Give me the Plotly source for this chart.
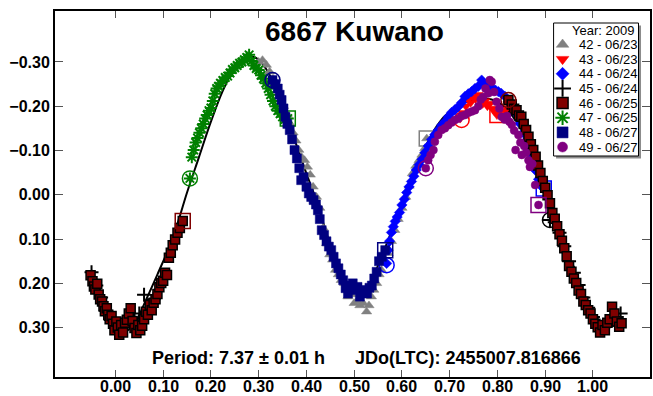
import plotly.graph_objects as go

# ---------------- data ----------------
title_text = "6867 Kuwano"
info_text = "Period: 7.37 ± 0.01 h      JDo(LTC): 2455007.816866"
legend_title = "Year: 2009"

x_ticks = [0.0, 0.1, 0.2, 0.3, 0.4, 0.5, 0.6, 0.7, 0.8, 0.9, 1.0]
y_ticks = [-0.3, -0.2, -0.1, 0.0, 0.1, 0.2, 0.3]

# fitted curve
fit_x = [-0.05, -0.03, -0.01, 0.0, 0.018, 0.04, 0.065, 0.09, 0.11, 0.13, 0.15, 0.175,
         0.20, 0.225, 0.25, 0.27, 0.285, 0.30, 0.315, 0.335, 0.36, 0.38, 0.40, 0.42,
         0.44, 0.46, 0.48, 0.50, 0.515, 0.53, 0.55, 0.57, 0.59, 0.61, 0.63, 0.65,
         0.67, 0.69, 0.72, 0.75, 0.775, 0.80, 0.82, 0.84, 0.86, 0.88, 0.90, 0.92,
         0.94, 0.96, 0.98, 1.0, 1.018, 1.035, 1.05]
fit_y = [0.17, 0.22, 0.27, 0.29, 0.31, 0.29, 0.235, 0.175, 0.125, 0.065, -0.005, -0.085,
         -0.165, -0.235, -0.287, -0.308, -0.312, -0.305, -0.285, -0.245, -0.165, -0.11, -0.048, 0.01,
         0.08, 0.145, 0.195, 0.218, 0.222, 0.205, 0.16, 0.105, 0.05, -0.005, -0.06, -0.11,
         -0.15, -0.178, -0.203, -0.215, -0.218, -0.21, -0.192, -0.165, -0.128, -0.08, -0.025, 0.04,
         0.11, 0.175, 0.235, 0.28, 0.305, 0.30, 0.28]

names = ["42 - 06/23", "43 - 06/23", "44 - 06/24", "45 - 06/24",
         "46 - 06/25", "47 - 06/25", "48 - 06/27", "49 - 06/27"]

s42_x = [0.300, 0.308, 0.316, 0.323, 0.330, 0.338, 0.345, 0.352, 0.360, 0.366, 0.372, 0.378,
         0.384, 0.390, 0.396, 0.402, 0.408, 0.414, 0.421, 0.428, 0.435, 0.442, 0.449, 0.455,
         0.461, 0.467, 0.473, 0.480, 0.487, 0.494, 0.500, 0.506, 0.512, 0.519, 0.526, 0.531,
         0.536, 0.541, 0.547, 0.552, 0.557, 0.564, 0.571, 0.578, 0.585, 0.592, 0.600, 0.608,
         0.615, 0.622, 0.629, 0.636, 0.642, 0.648, 0.652]
s42_y = [-0.300, -0.304, -0.293, -0.278, -0.262, -0.245, -0.225, -0.200, -0.180, -0.160, -0.140, -0.122,
         -0.101, -0.085, -0.078, -0.063, -0.045, -0.018, 0.005, 0.030, 0.075, 0.110, 0.135, 0.147,
         0.170, 0.180, 0.193, 0.200, 0.230, 0.225, 0.245, 0.240, 0.250, 0.245, 0.264, 0.250,
         0.230, 0.215, 0.200, 0.180, 0.170, 0.150, 0.132, 0.105, 0.080, 0.055, 0.030, 0.005,
         -0.020, -0.048, -0.065, -0.078, -0.090, -0.105, -0.127]

s43_x = [0.722, 0.728, 0.734, 0.739, 0.744, 0.749, 0.754, 0.759, 0.764, 0.769, 0.774, 0.779,
         0.784, 0.789, 0.794, 0.799, 0.804, 0.810, 0.816, 0.822]
s43_y = [-0.172, -0.185, -0.200, -0.214, -0.208, -0.221, -0.216, -0.226, -0.218, -0.205, -0.212, -0.200,
         -0.206, -0.195, -0.188, -0.180, -0.186, -0.175, -0.190, -0.205]

s44_x = [0.568, 0.571, 0.574, 0.578, 0.582, 0.586, 0.590, 0.595, 0.600, 0.605, 0.610, 0.615,
         0.620, 0.625, 0.630, 0.636, 0.642, 0.648, 0.655, 0.662, 0.669, 0.676, 0.683, 0.690,
         0.697, 0.704, 0.711, 0.718, 0.725, 0.732, 0.739, 0.746, 0.753, 0.760, 0.767, 0.772,
         0.778, 0.784, 0.790, 0.796, 0.802, 0.808, 0.816, 0.824, 0.832, 0.840, 0.847, 0.854,
         0.860, 0.866, 0.872, 0.879, 0.886, 0.892, 0.897]
s44_y = [0.155, 0.125, 0.105, 0.085, 0.072, 0.060, 0.050, 0.040, 0.023, 0.010, -0.005, -0.018,
         -0.030, -0.042, -0.056, -0.068, -0.080, -0.095, -0.110, -0.125, -0.136, -0.146, -0.157, -0.165,
         -0.176, -0.186, -0.192, -0.199, -0.208, -0.222, -0.228, -0.233, -0.240, -0.245, -0.259, -0.250,
         -0.244, -0.252, -0.240, -0.236, -0.233, -0.229, -0.222, -0.210, -0.198, -0.183, -0.161, -0.140,
         -0.122, -0.100, -0.085, -0.056, -0.035, -0.020, -0.014]

s45_x = [-0.050, -0.040, -0.030, -0.020, -0.010, 0.000, 0.010, 0.020, 0.030, 0.040, 0.050, 0.060,
         0.070, 0.080, 0.910, 0.920, 0.930, 0.940, 0.950, 0.960, 0.970, 0.980, 0.990, 1.000,
         1.010, 1.020, 1.030, 1.040, 1.050, 1.058]
s45_y = [0.175, 0.205, 0.232, 0.262, 0.283, 0.300, 0.306, 0.298, 0.288, 0.280, 0.268, 0.226,
         0.255, 0.236, 0.057, 0.062, 0.086, 0.116, 0.150, 0.176, 0.204, 0.232, 0.255, 0.276,
         0.290, 0.302, 0.296, 0.284, 0.276, 0.268]

s46_x = [-0.052, -0.048, -0.045, -0.042, -0.038, -0.035, -0.032, -0.028, -0.025, -0.022, -0.018, -0.015,
         -0.012, -0.008, -0.005, -0.002, 0.002, 0.005, 0.008, 0.012, 0.016, 0.020, 0.024, 0.028,
         0.032, 0.036, 0.040, 0.044, 0.048, 0.052, 0.056, 0.060, 0.064, 0.068, 0.072, 0.076,
         0.080, 0.084, 0.088, 0.092, 0.096, 0.100, 0.104, 0.108, 0.112, 0.116, 0.120, 0.125,
         0.130, 0.135, 0.141,
         0.823, 0.830, 0.835, 0.840, 0.845, 0.850, 0.855, 0.860, 0.865, 0.870, 0.875, 0.880,
         0.885, 0.890, 0.895, 0.900, 0.905, 0.910, 0.915, 0.920, 0.925, 0.930, 0.935, 0.940,
         0.945, 0.950, 0.955, 0.960, 0.965, 0.970, 0.975, 0.980, 0.985, 0.990, 0.995, 1.000,
         1.005, 1.010, 1.015, 1.020, 1.025, 1.030, 1.035, 1.040, 1.045, 1.050, 1.055, 1.060]
s46_y = [0.182, 0.195, 0.207, 0.214, 0.201, 0.225, 0.236, 0.241, 0.252, 0.263, 0.256, 0.271,
         0.281, 0.274, 0.291, 0.306, 0.286, 0.300, 0.316, 0.294, 0.311, 0.289, 0.282, 0.268,
         0.256, 0.285, 0.301, 0.312, 0.294, 0.306, 0.296, 0.281, 0.264, 0.271, 0.249, 0.261,
         0.244, 0.236, 0.224, 0.209, 0.199, 0.194, 0.176, 0.181, 0.142, 0.131, 0.114, 0.101,
         0.086, 0.075, 0.059,
         -0.214, -0.204, -0.194, -0.191, -0.179, -0.176, -0.160, -0.146, -0.131, -0.114, -0.101, -0.086,
         -0.066, -0.049, -0.031, -0.016, 0.001, 0.019, 0.041, 0.054, 0.071, 0.089, 0.104, 0.121,
         0.139, 0.161, 0.174, 0.189, 0.199, 0.216, 0.224, 0.241, 0.249, 0.261, 0.268, 0.281,
         0.291, 0.299, 0.311, 0.294, 0.306, 0.289, 0.281, 0.253, 0.268, 0.286, 0.298, 0.290]

s47_x = [0.156, 0.160, 0.164, 0.168, 0.172, 0.176, 0.180, 0.184, 0.188, 0.192, 0.196, 0.200,
         0.204, 0.208, 0.212, 0.216, 0.220, 0.225, 0.230, 0.235, 0.240, 0.245, 0.250, 0.255,
         0.260, 0.265, 0.270, 0.275, 0.280, 0.285, 0.290, 0.295, 0.300, 0.305, 0.310, 0.315,
         0.320, 0.325, 0.330, 0.335, 0.340, 0.345, 0.350, 0.355, 0.361]
s47_y = [-0.037, -0.085, -0.101, -0.118, -0.128, -0.140, -0.150, -0.160, -0.172, -0.180, -0.190, -0.196,
         -0.212, -0.228, -0.240, -0.245, -0.252, -0.258, -0.265, -0.268, -0.275, -0.283, -0.287, -0.292,
         -0.297, -0.300, -0.305, -0.310, -0.316, -0.302, -0.292, -0.285, -0.282, -0.270, -0.262, -0.252,
         -0.240, -0.226, -0.212, -0.200, -0.190, -0.183, -0.176, -0.170, -0.172]

s48_x = [0.329, 0.335, 0.340, 0.344, 0.348, 0.352, 0.356, 0.360, 0.365, 0.370, 0.375, 0.380,
         0.385, 0.389, 0.394, 0.400, 0.405, 0.410, 0.415, 0.420, 0.424, 0.428, 0.432, 0.437,
         0.442, 0.447, 0.452, 0.457, 0.462, 0.467, 0.472, 0.477, 0.482, 0.487, 0.492, 0.497,
         0.502, 0.507, 0.512, 0.517, 0.522, 0.527, 0.532, 0.537, 0.542, 0.547, 0.552, 0.558, 0.565]
s48_y = [-0.259, -0.250, -0.240, -0.226, -0.214, -0.195, -0.176, -0.160, -0.146, -0.125, -0.101, -0.082,
         -0.060, -0.033, -0.040, -0.018, -0.003, 0.005, 0.012, 0.022, 0.035, 0.055, 0.080, 0.091,
         0.105, 0.117, 0.125, 0.140, 0.155, 0.166, 0.180, 0.193, 0.211, 0.223, 0.205, 0.200,
         0.215, 0.208, 0.230, 0.215, 0.222, 0.223, 0.210, 0.205, 0.189, 0.174, 0.150, 0.140, 0.125]

s49_x = [0.650, 0.655, 0.660, 0.666, 0.669, 0.676, 0.683, 0.690, 0.697, 0.704, 0.711, 0.718,
         0.725, 0.732, 0.739, 0.746, 0.753, 0.760, 0.765, 0.770, 0.775, 0.781, 0.784, 0.788,
         0.793, 0.798, 0.804, 0.809, 0.815, 0.820, 0.825, 0.830, 0.835, 0.838, 0.844, 0.848,
         0.851, 0.856, 0.860, 0.865, 0.868, 0.873, 0.879, 0.886]
s49_y = [-0.060, -0.078, -0.090, -0.101, -0.120, -0.135, -0.146, -0.150, -0.157, -0.163, -0.169, -0.172,
         -0.178, -0.180, -0.185, -0.188, -0.191, -0.200, -0.215, -0.221, -0.240, -0.229, -0.259, -0.255,
         -0.232, -0.210, -0.195, -0.176, -0.170, -0.178, -0.165, -0.158, -0.145, -0.101, -0.135, -0.118,
         -0.090, -0.110, -0.095, -0.078, -0.063, -0.070, -0.022, 0.023]

# session first (circle) / last (square) points
first_x = [None, 0.725, 0.568, 0.910, 0.823, 0.156, 0.329, 0.650]
first_y = [None, -0.169, 0.159, 0.057, -0.214, -0.037, -0.259, -0.060]
last_x = [0.652, 0.800, 0.897, None, 0.141, 0.361, 0.565, 0.886]
last_y = [-0.127, -0.180, -0.014, None, 0.059, -0.172, 0.125, 0.023]

# ---------------- styling / layout constants (pixels) ----------------
W, H = 653, 396
PL, PR, PT, PB = 55, 650.5, 11, 377          # plot area edges in px
Y_TOP, Y_BOT = -0.415, 0.4115
XLAB_Y = 386.5                                 # centre line of the x tick labels (px)
colors = ["#808080", "#ff0000", "#0000ff", "#000000", "#800000", "#008000", "#000080", "#800080"]
symbols = ["triangle-up", "triangle-down", "diamond", "cross-thin", "square", "asterisk", "square", "circle"]
sizes = [9, 9, 8, 10, 9, 10, 9, 8]
FONT = "Arial, Liberation Sans, sans-serif"

LEG_X0, LEG_X1, LEG_Y0, LEG_Y1 = 554, 639, 23, 156
LEG_SYM_X, LEG_TXT_X, LEG_ROW0, LEG_STEP = 563, 577, 44.5, 14.65

series_x = [s42_x, s43_x, s44_x, s45_x, s46_x, s47_x, s48_x, s49_x]
series_y = [s42_y, s43_y, s44_y, s45_y, s46_y, s47_y, s48_y, s49_y]


def mk(i, size):
    sym = symbols[i]
    if sym in ("cross-thin", "asterisk"):
        return dict(symbol=sym, size=size, color=colors[i], line=dict(color=colors[i], width=2))
    if i == 4:
        return dict(symbol=sym, size=size, color=colors[i], line=dict(color="black", width=1.5))
    return dict(symbol=sym, size=size, color=colors[i], line=dict(color=colors[i], width=0.5))


fig = go.Figure()

fig.add_trace(go.Scatter(x=fit_x, y=fit_y, mode="lines",
                         line=dict(color="black", width=2, shape="spline", smoothing=1.0),
                         showlegend=False, hoverinfo="skip"))

for i in range(8):
    fig.add_trace(go.Scatter(x=series_x[i], y=series_y[i], mode="markers", name=names[i],
                             marker=mk(i, sizes[i]), showlegend=False))
    if first_x[i] is not None:
        fig.add_trace(go.Scatter(x=[first_x[i]], y=[first_y[i]], mode="markers", showlegend=False,
                                 marker=dict(symbol="circle-open", size=15, color=colors[i],
                                             line=dict(width=1.5, color=colors[i]))))
    if last_x[i] is not None:
        fig.add_trace(go.Scatter(x=[last_x[i]], y=[last_y[i]], mode="markers", showlegend=False,
                                 marker=dict(symbol="square-open", size=15, color=colors[i],
                                             line=dict(width=1.5, color=colors[i]))))

# ---- hand-drawn legend on a pixel-coordinate overlay axis ----
annotations = []
for i in range(8):
    yy = LEG_ROW0 + i * LEG_STEP
    fig.add_trace(go.Scatter(x=[LEG_SYM_X], y=[yy], xaxis="x2", yaxis="y2", mode="markers",
                             marker=mk(i, sizes[i] + 2), showlegend=False, hoverinfo="skip"))
    annotations.append(dict(text=names[i], x=LEG_TXT_X, y=yy, xref="x2", yref="y2",
                            xanchor="left", yanchor="middle", showarrow=False,
                            font=dict(family=FONT, size=13, color="black")))
annotations.append(dict(text=legend_title, x=LEG_X1 - 3, y=LEG_ROW0 - LEG_STEP + 1, xref="x2", yref="y2",
                        xanchor="right", yanchor="middle", showarrow=False,
                        font=dict(family=FONT, size=13, color="black")))
annotations.append(dict(text=title_text, x=355, y=31, xref="x2", yref="y2", showarrow=False,
                        xanchor="center", yanchor="middle",
                        font=dict(family=FONT, size=28, color="black", weight="bold")))
annotations.append(dict(text=info_text, x=366.5, y=357.5, xref="x2", yref="y2", showarrow=False,
                        xanchor="center", yanchor="middle",
                        font=dict(family=FONT, size=18, color="black", weight="bold")))
# x tick labels (placed just under the axis line, paper-referenced so they are not clipped)
xlab_paper_y = (PB - XLAB_Y) / (PB - PT)
for t in x_ticks:
    annotations.append(dict(text=f"{t:.2f}", x=t, y=xlab_paper_y, xref="x", yref="paper", showarrow=False,
                            xanchor="center", yanchor="middle",
                            font=dict(family=FONT, size=16, color="black", weight="bold")))

shapes = [
    dict(type="rect", xref="x2", yref="y2", x0=LEG_X0 + 2.5, x1=LEG_X1 + 2.5, y0=LEG_Y0 + 2.5, y1=LEG_Y1 + 2.5,
         fillcolor="#8c8c8c", line=dict(width=0), layer="below"),
    dict(type="rect", xref="x2", yref="y2", x0=LEG_X0, x1=LEG_X1, y0=LEG_Y0, y1=LEG_Y1,
         fillcolor="white", line=dict(color="black", width=1), layer="below"),
]

fig.update_layout(
    width=W, height=H,
    margin=dict(l=PL, r=W - PR, t=PT, b=H - PB, autoexpand=False),
    paper_bgcolor="white", plot_bgcolor="white",
    font=dict(family=FONT, color="black"),
    showlegend=False,
    xaxis=dict(range=[-0.1265, 1.1195], tickvals=x_ticks, showticklabels=False, automargin=False,
               ticks="inside", ticklen=7, tickwidth=1, tickcolor="#555",
               showline=True, linecolor="black", linewidth=2, mirror="ticks",
               showgrid=False, zeroline=False),
    yaxis=dict(range=[Y_BOT, Y_TOP], tickvals=y_ticks, tickformat=".2f", automargin=False,
               ticks="inside", ticklen=8, tickwidth=1, tickcolor="#555",
               showline=True, linecolor="black", linewidth=2, mirror="ticks",
               showgrid=False, zeroline=False,
               tickfont=dict(family=FONT, size=16, color="black", weight="bold")),
    xaxis2=dict(range=[PL, PR], overlaying="x", anchor="y2", visible=False, fixedrange=True, automargin=False),
    yaxis2=dict(range=[PB, PT], overlaying="y", anchor="x2", visible=False, fixedrange=True, automargin=False),
    annotations=annotations,
    shapes=shapes,
)

fig.write_html("out.html")
